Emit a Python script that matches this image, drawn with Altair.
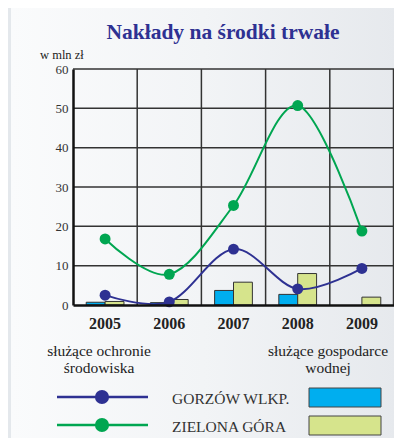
import altair as alt
import pandas as pd

years = ["2005", "2006", "2007", "2008", "2009"]
env_gorzow = [2.5, 0.8, 14.2, 4.1, 9.3]
env_zielona = [16.8, 7.8, 25.3, 50.7, 18.8]
water_gorzow = [0.7, 0.6, 3.7, 2.7, 0.0]
water_zielona = [0.9, 1.4, 5.8, 8.0, 2.0]
series = ["GORZÓW WLKP.", "ZIELONA GÓRA"]
line_colors = ["#2e3192", "#00a651"]
bar_colors = ["#00aeef", "#d6e48c"]
y_ticks = [0, 10, 20, 30, 40, 50, 60]
title_text = "Nakłady na środki trwałe"
unit_text = "w mln zł"
env_label = ["służące ochronie", "środowiska"]
water_label = ["służące gospodarce", "wodnej"]

W, H = 321, 236
SERIF = "Liberation Serif"
GRID = "#333333"

lines_df = pd.DataFrame({
    "year": years * 2,
    "series": [series[0]] * 5 + [series[1]] * 5,
    "value": env_gorzow + env_zielona,
})
bars_df = pd.DataFrame({
    "year": years * 2,
    "series": [series[0]] * 5 + [series[1]] * 5,
    "value": water_gorzow + water_zielona,
})
bars_df = bars_df[bars_df["value"] > 0]
years_df = pd.DataFrame({"year": years[1:]})
ygrid_df = pd.DataFrame({"v": y_ticks[1:]})
one = pd.DataFrame({"k": [0]})

xscale = alt.Scale(domain=years, paddingInner=0, paddingOuter=0)
yscale = alt.Scale(domain=[0, 60], nice=False)

x_axis = alt.Axis(title=None, ticks=False,
                  grid=False, domainColor="#111", domainWidth=2.5,
                  labelFont=SERIF, labelFontSize=16, labelFontWeight="bold",
                  labelColor="#222", labelPadding=10, zindex=1, labelAngle=0)
y_axis = alt.Axis(title=None, values=y_ticks, ticks=False, grid=False,
                  domainColor="#111", domainWidth=2.5, labelFont=SERIF,
                  labelFontSize=13, labelColor="#333", labelPadding=5, zindex=1)

bg = alt.Chart(one).mark_rect(
    fill=alt.LinearGradient(
        gradient="linear", x1=0, x2=1, y1=0, y2=0,
        stops=[alt.GradientStop(color="#fafbfc", offset=0),
               alt.GradientStop(color="#f2f4f6", offset=0.5),
               alt.GradientStop(color="#e6e9ed", offset=1)])
).encode(x=alt.value(-62), x2=alt.value(W + 2), y=alt.value(-61), y2=alt.value(H + 140))

vrules = alt.Chart(years_df).mark_rule(color=GRID, strokeWidth=1.5).encode(
    x=alt.X("year:N", scale=xscale, axis=x_axis, bandPosition=0))
right_rule = alt.Chart(one).mark_rule(color=GRID, strokeWidth=1.5).encode(
    x=alt.value(W - 0.5), y=alt.value(0), y2=alt.value(H))
hrules = alt.Chart(ygrid_df).mark_rule(color=GRID, strokeWidth=1.5).encode(
    y=alt.Y("v:Q", scale=yscale, axis=y_axis))

bars = alt.Chart(bars_df).mark_bar(stroke="#333", strokeWidth=1).encode(
    x=alt.X("year:N", scale=xscale, axis=x_axis),
    xOffset=alt.XOffset("series:N", sort=series,
                        scale=alt.Scale(domain=series, paddingInner=0, paddingOuter=0.7)),
    y=alt.Y("value:Q", scale=yscale, axis=y_axis),
    color=alt.Color("series:N", scale=alt.Scale(domain=series, range=bar_colors), legend=None),
)

line_layers = []
for s, c in zip(series, line_colors):
    base = alt.Chart(lines_df).transform_filter(alt.datum.series == s)
    line_layers.append(base.mark_line(color=c, strokeWidth=2, interpolate="cardinal").encode(
        x=alt.X("year:N", scale=xscale, axis=x_axis, bandPosition=0.5),
        y=alt.Y("value:Q", scale=yscale, axis=y_axis)))
    line_layers.append(base.mark_point(color=c, filled=True, opacity=1, size=120).encode(
        x=alt.X("year:N", scale=xscale, axis=x_axis, bandPosition=0.5),
        y=alt.Y("value:Q", scale=yscale, axis=y_axis)))


def txt(text, x, y, size, align="center", weight="normal", color="#222", baseline="middle"):
    return alt.Chart(one).mark_text(font=SERIF, fontSize=size, fontWeight=weight,
                                    color=color, align=align, baseline=baseline,
                                    lineHeight=17).encode(
        x=alt.value(x), y=alt.value(y), text=alt.value(text))


title = txt(title_text, 150, -36, 21.5, weight="bold", color="#2e3192")
unit = txt(unit_text, -33, -14, 12.5, align="left")
env = txt(env_label, 26, 282, 15.5, baseline="middle")
water = txt(water_label, 255, 282, 15.5, baseline="middle")

legend_layers = []
for i, s in enumerate(series):
    yy = 328 + i * 28
    legend_layers.append(alt.Chart(one).mark_rule(color=line_colors[i], strokeWidth=2.5).encode(
        x=alt.value(-16), x2=alt.value(75), y=alt.value(yy)))
    legend_layers.append(alt.Chart(one).mark_point(color=line_colors[i], filled=True,
                                                   opacity=1, size=200).encode(
        x=alt.value(29), y=alt.value(yy)))
    legend_layers.append(txt(s, 99, yy + 2, 15.5, align="left", color="#333"))
    legend_layers.append(alt.Chart(one).mark_rect(fill=bar_colors[i], stroke="#444",
                                                  strokeWidth=1).encode(
        x=alt.value(236), x2=alt.value(308), y=alt.value(yy - 9), y2=alt.value(yy + 10)))

chart = alt.layer(
    bg, vrules, right_rule, hrules, bars, *line_layers,
    title, unit, env, water, *legend_layers
).properties(
    width=W, height=H,
    autosize=alt.AutoSizeParams(type="none"),
    padding={"left": 65, "top": 61, "right": 0, "bottom": 133},
    background="#e4e8ec",
).configure_view(stroke=None)

chart.save("out.html", embed_options={"renderer": "svg", "actions": False})
